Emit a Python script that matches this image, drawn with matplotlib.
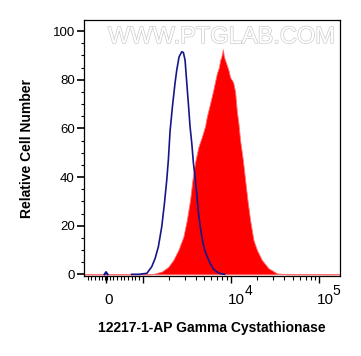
import numpy as np
import matplotlib
matplotlib.use('Agg')
import matplotlib.pyplot as plt
import matplotlib.patheffects as pe
from matplotlib.ticker import FixedLocator, NullFormatter

azul_x = [700, 900, 1120, 1270, 1390, 1510, 1650, 1770, 1880, 1960,
          2050, 2180, 2330, 2440, 2590, 2780, 2900, 3030, 3170, 3300, 3450,
          3610, 3760, 3930, 4110, 4290, 4480, 4690, 4890, 5110, 5340, 5820,
          6340, 6930, 7550, 8500]
azul_y = [0, 0, 0.4, 3.1, 6.6, 11.3, 19.6, 29.2, 38.8, 47,
          59, 69, 78.5, 84, 89.4, 91.5, 91.2, 88, 78.5, 70.3, 60.7,
          53.8, 46, 40, 33, 25.5, 20, 15.5, 12, 9.5, 7.6, 4.5,
          2.2, 1.0, 0.3, 0]
# pequeno pico azul no zero
azul0_x = [-40, 0, 40]
azul0_y = [0, 0.9, 0]

vermelho_x = [-590, 1270, 1650, 1960, 2230, 2545, 2900, 3170, 3450, 3670, 3930,
              4290, 4690, 5110, 5340, 5820, 6340, 6930, 7300, 7550, 7800, 8105,
              8300, 8500, 8700, 8980, 9380, 9800, 10200, 10600, 11170, 11680,
              12180, 12730, 13660, 14500, 15400, 16500, 18000, 19700, 22400,
              26600, 33200, 43000, 172000]
vermelho_y = [0, 0, 1.1, 3.1, 5.9, 10, 15.5, 22.3, 30.5, 38.8, 46,
              52.4, 56.5, 61, 64.8, 70.3, 76, 82.6, 85, 88, 89.5, 92.5,
              90, 88.5, 87.5, 86, 84, 81, 80, 79, 75, 67,
              62, 55, 47, 38.8, 30.5, 22.3, 14.1, 10, 5.9,
              2.5, 0.4, 0, 0]

rotulo_x = '12217-1-AP Gamma Cystathionase'
rotulo_y = 'Relative Cell Number'
marca = 'WWW.PTGLAB.COM'

# escala tipo citometria: linear perto do zero, log acima de T
T = 1050.0
L = np.log10(T)
LN10 = np.log(10)


def direta(x):
    x = np.asarray(x, dtype=float)
    lin = L + (x - T) / (T * LN10)
    log = np.log10(np.maximum(x, T))
    return np.where(x > T, log, lin)


def inversa(y):
    y = np.asarray(y, dtype=float)
    lin = T * (1 + (y - L) * LN10)
    log = 10 ** np.minimum(y, 12)
    return np.where(y > L, log, lin)


plt.rcParams['font.family'] = ['Liberation Sans', 'DejaVu Sans']

fig = plt.figure(figsize=(3.61, 3.56), dpi=100)
ax = fig.add_axes([0.234, 0.2247, 0.708, 0.718])
ax.set_xscale('function', functions=(direta, inversa))

ax.fill_between(vermelho_x, vermelho_y, 0, color='#ff0000', linewidth=0.6,
                edgecolor='#ff7070', zorder=2)
ax.plot(azul_x, azul_y, color='#16168c', linewidth=1.2, zorder=3)
ax.plot(azul0_x, azul0_y, color='#16168c', linewidth=1.5, zorder=3)

ax.set_xlim(-590, 172000)
ax.set_ylim(-0.7, 104.4)

# ticks do eixo x
maiores = [0, 1e3, 1e4, 1e5]
menores = [-500, -400, -300, -200, -100, -35, 35, 100, 200, 300, 400, 500, 600,
           700, 800, 900]
menores += [k * 1e3 for k in range(2, 10)] + [k * 1e4 for k in range(2, 10)]
ax.xaxis.set_major_locator(FixedLocator(maiores))
ax.xaxis.set_minor_locator(FixedLocator(menores))
ax.xaxis.set_major_formatter(NullFormatter())
ax.xaxis.set_minor_formatter(NullFormatter())
ax.tick_params(axis='x', which='major', length=5, width=1.0, direction='out')
ax.tick_params(axis='x', which='minor', length=3, width=0.8, direction='out')

# rótulos do eixo x colocados à mão (como no original)
ax.annotate('0', xy=(0, 0), xycoords=('data', 'axes fraction'),
            xytext=(2, -12.5), textcoords='offset points', ha='center', va='top',
            fontsize=11)
for v, exp in [(1e4, '4'), (1e5, '5')]:
    ax.annotate('10', xy=(v, 0), xycoords=('data', 'axes fraction'),
                xytext=(-2, -12.5), textcoords='offset points', ha='left',
                va='top', fontsize=11)
    ax.annotate(exp, xy=(v, 0), xycoords=('data', 'axes fraction'),
                xytext=(9.8, -6), textcoords='offset points', ha='left',
                va='top', fontsize=10)

# ticks do eixo y
ax.set_yticks([0, 20, 40, 60, 80, 100])
ax.set_yticks(np.arange(0, 105, 5), minor=True)
ax.tick_params(axis='y', which='major', length=5, width=1.2, pad=2,
               labelsize=9.5)
ax.tick_params(axis='y', which='minor', length=2.5, width=0.8)

for s in ax.spines.values():
    s.set_linewidth(0.9)

ax.set_xlabel(rotulo_x, fontsize=10, fontweight='bold', labelpad=24)
ax.set_ylabel(rotulo_y, fontsize=10, fontweight='bold', labelpad=13)

# marca d'água
ax.text(0.535, 0.935, marca, transform=ax.transAxes, ha='center', va='center',
        fontsize=17, color='white', zorder=1,
        path_effects=[pe.Stroke(linewidth=1.0, foreground='#cccccc'), pe.Normal()])

fig.savefig('out.png', dpi=100)
